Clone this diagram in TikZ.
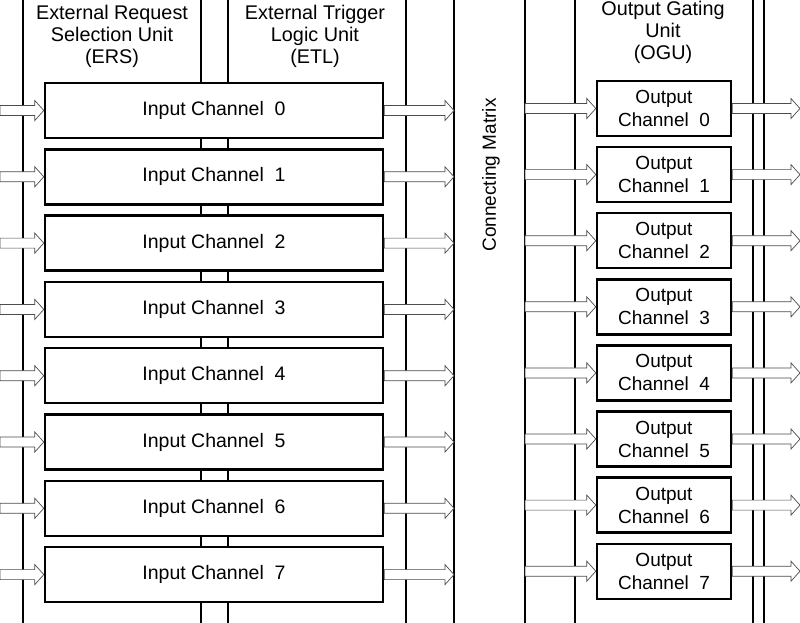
\documentclass[tikz,border=0pt]{standalone}
\usepackage{fontspec}
\setmainfont{Liberation Sans}
\usetikzlibrary{calc}
\newcommand{\harrow}[2]{%
  \path let \p1=(#1), \p2=(#2) in
    [draw=black!70, fill=white, line width=0.7pt]
    (\x1,\y1+5) -- (\x2-9,\y1+5) -- (\x2-9,\y1+10) -- (\x2,\y1) -- (\x2-9,\y1-10) -- (\x2-9,\y1-5) -- (\x1,\y1-5) -- cycle;}
\begin{document}
\begin{tikzpicture}[x=1pt,y=-1pt,
  vline/.style={line width=2.4pt},
  box/.style={draw, line width=2.4pt, fill=white, align=center, inner sep=0pt},
  ibox/.style={box, minimum width=338pt, minimum height=55pt, font=\fontsize{19.5}{22}\selectfont},
  obox/.style={box, minimum width=134pt, minimum height=55pt, font=\fontsize{19}{23}\selectfont},
  head/.style={align=center, font=\fontsize{19.8}{22}\selectfont}]
\useasboundingbox (0,0) rectangle (800,623);
\foreach \x in {23,201,228,406,454,525,575,753,764} \draw[vline] (\x,-5) -- (\x,630);
\node[head] (ers) at (112,36) {External Request\\Selection Unit\\(ERS)};
\node[head] (etl) at (315,36) {External Trigger\\Logic Unit\\(ETL)};
\node[head] (ogu) at (663,32) {Output Gating\\Unit\\(OGU)};
\node[rotate=90, font=\fontsize{19}{22}\selectfont] (cm) at (491,175) {Connecting Matrix};
\foreach \i in {0,...,7} {
  \node[ibox] (in\i) at (214,{110.5+66.3*\i}) {Input Channel\ \ \i};
  \node[obox] (out\i) at (664,{108.5+66.1*\i}) {Output\\Channel\ \ \i};
  \coordinate (l\i) at (0,{110.5+66.3*\i});
  \coordinate (m\i) at (454,{110.5+66.3*\i});
  \coordinate (n\i) at (525,{108.5+66.1*\i});
  \coordinate (r\i) at (800,{108.5+66.1*\i});
  \harrow{l\i}{in\i.west}
  \harrow{in\i.east}{m\i}
  \harrow{n\i}{out\i.west}
  \harrow{out\i.east}{r\i}
}
\end{tikzpicture}
\end{document}
